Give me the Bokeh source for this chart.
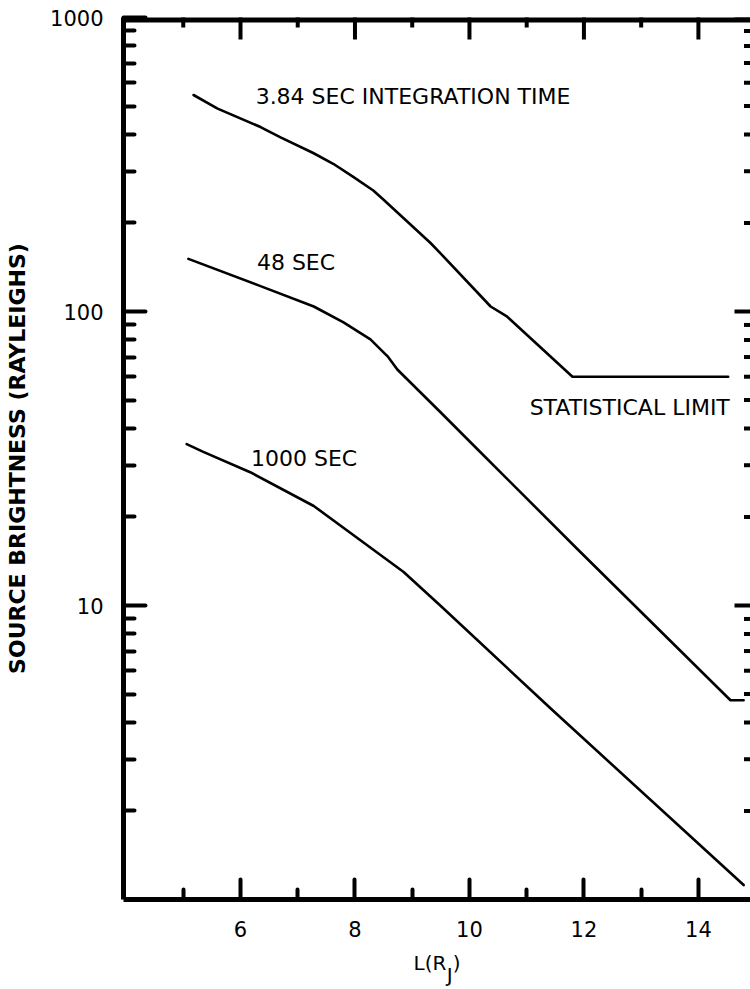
import math
from bokeh.plotting import figure
from bokeh.models import Range1d, FixedTicker, ColumnDataSource, Label
from bokeh.embed import file_html
from bokeh.resources import INLINE

# ---- data ----
x_384 = [5.18, 5.6, 6.35, 6.7, 7.27, 7.62, 7.97, 8.32, 8.5, 9.32, 9.49, 10.37, 10.66, 11.8, 14.52]
y_384 = [545, 490, 424, 391, 346, 318, 287, 258, 240, 171, 158, 104, 96, 60, 60]

x_48 = [5.09, 6.35, 7.28, 7.8, 8.27, 8.57, 8.74, 9.49, 10.14, 11.88, 14.56, 14.79]
y_48 = [151, 122, 104, 91.8, 80.4, 70.4, 63.5, 45.5, 34, 15.6, 4.76, 4.76]

x_1000 = [5.06, 5.35, 6.17, 7.28, 8.22, 8.85, 9.49, 11.41, 14.79]
y_1000 = [35.4, 33.3, 28.4, 21.8, 16, 13, 10, 4.48, 1.12]

x_major_ticks = [6, 8, 10, 12, 14]
x_minor_ticks = [5, 7, 9, 11, 13]
y_major_ticks = [10, 100, 1000]
y_minor_ticks = [2, 3, 4, 5, 6, 7, 8, 9, 20, 30, 40, 50, 60, 70, 80, 90,
                 200, 300, 400, 500, 600, 700, 800, 900]
y_tick_labels = {10: "10", 100: "100", 1000: "1000"}

X_MIN, X_MAX = 3.956, 14.91
Y_MIN, Y_MAX = 1, 1000
FONT = "DejaVu Sans"
NBSP = "\u00a0"

p = figure(width=750, height=989,
           x_range=Range1d(X_MIN, X_MAX), y_range=Range1d(Y_MIN, Y_MAX),
           y_axis_type="log", output_backend="svg", toolbar_location=None,
           min_border_left=123, min_border_right=0, min_border_top=17,
           min_border_bottom=90)
p.xgrid.visible = False
p.ygrid.visible = False
p.outline_line_color = None
p.background_fill_color = "white"
p.border_fill_color = "white"


def style_axis(ax, major_in, minor_in):
    ax.axis_line_width = 5
    ax.axis_line_color = "black"
    ax.major_tick_in = major_in
    ax.major_tick_out = 0
    ax.minor_tick_in = minor_in
    ax.minor_tick_out = 0
    ax.major_tick_line_width = 4
    ax.minor_tick_line_width = 4
    ax.major_tick_line_cap = "round"
    ax.minor_tick_line_cap = "round"
    ax.major_tick_line_color = "black"
    ax.minor_tick_line_color = "black"
    ax.major_label_text_font = FONT
    ax.major_label_text_font_size = "21px"
    ax.major_label_text_color = "black"


# bottom axis; title L(R_J) with the J dropped half a line
xb = p.xaxis[0]
xb.ticker = FixedTicker(ticks=x_major_ticks, minor_ticks=x_minor_ticks)
style_axis(xb, 20, 10)
xb.major_label_standoff = 21
xb.axis_label = "L(R" + NBSP + ")\n" + NBSP * 4 + "J"
xb.axis_label_text_font = FONT
xb.axis_label_text_font_size = "20px"
xb.axis_label_text_font_style = "normal"
xb.axis_label_text_color = "black"
xb.axis_label_text_line_height = 0.5
xb.axis_label_standoff = 11

# left axis
yl = p.yaxis[0]
yl.ticker = FixedTicker(ticks=y_major_ticks, minor_ticks=y_minor_ticks)
yl.major_label_overrides = y_tick_labels
style_axis(yl, 22, 11)
yl.major_label_standoff = 20
yl.axis_label = "SOURCE BRIGHTNESS (RAYLEIGHS)"
yl.axis_label_text_font = FONT
yl.axis_label_text_font_size = "22px"
yl.axis_label_text_font_style = "bold"
yl.axis_label_text_color = "black"
yl.axis_label_standoff = 17

# top frame line and ticks (ticks pointing down, clipped to the frame)
p.line(x=[X_MIN, X_MAX], y=[Y_MAX, Y_MAX], line_color="black", line_width=10)
p.scatter(x=x_major_ticks, y=[Y_MAX] * len(x_major_ticks), marker="dash",
          size=44, angle=math.pi / 2, line_color="black", line_width=4)
p.scatter(x=x_minor_ticks, y=[Y_MAX] * len(x_minor_ticks), marker="dash",
          size=20, angle=math.pi / 2, line_color="black", line_width=4)

# right side ticks (pointing left, clipped to the frame)
p.scatter(x=[X_MAX] * len(y_major_ticks), y=y_major_ticks, marker="dash",
          size=32, line_color="black", line_width=4)
p.scatter(x=[X_MAX] * len(y_minor_ticks), y=y_minor_ticks, marker="dash",
          size=13, line_color="black", line_width=4)

# curves
for xs, ys in [(x_384, y_384), (x_48, y_48), (x_1000, y_1000)]:
    src = ColumnDataSource(dict(x=xs, y=ys))
    p.line("x", "y", source=src, line_color="black", line_width=2.6,
           line_join="round", line_cap="round")

# annotations
annotations = [
    ("3.84 SEC INTEGRATION TIME", 9.014, 538),
    ("48 SEC", 6.97, 147),
    ("1000 SEC", 7.11, 31.6),
    ("STATISTICAL LIMIT", 12.80, 47.1),
]
for txt, ax_, ay_ in annotations:
    p.add_layout(Label(x=ax_, y=ay_, text=txt, text_font=FONT,
                       text_font_size="22px", text_align="center",
                       text_baseline="middle", text_color="black"))

open("out.html", "w").write(file_html(p, INLINE))
